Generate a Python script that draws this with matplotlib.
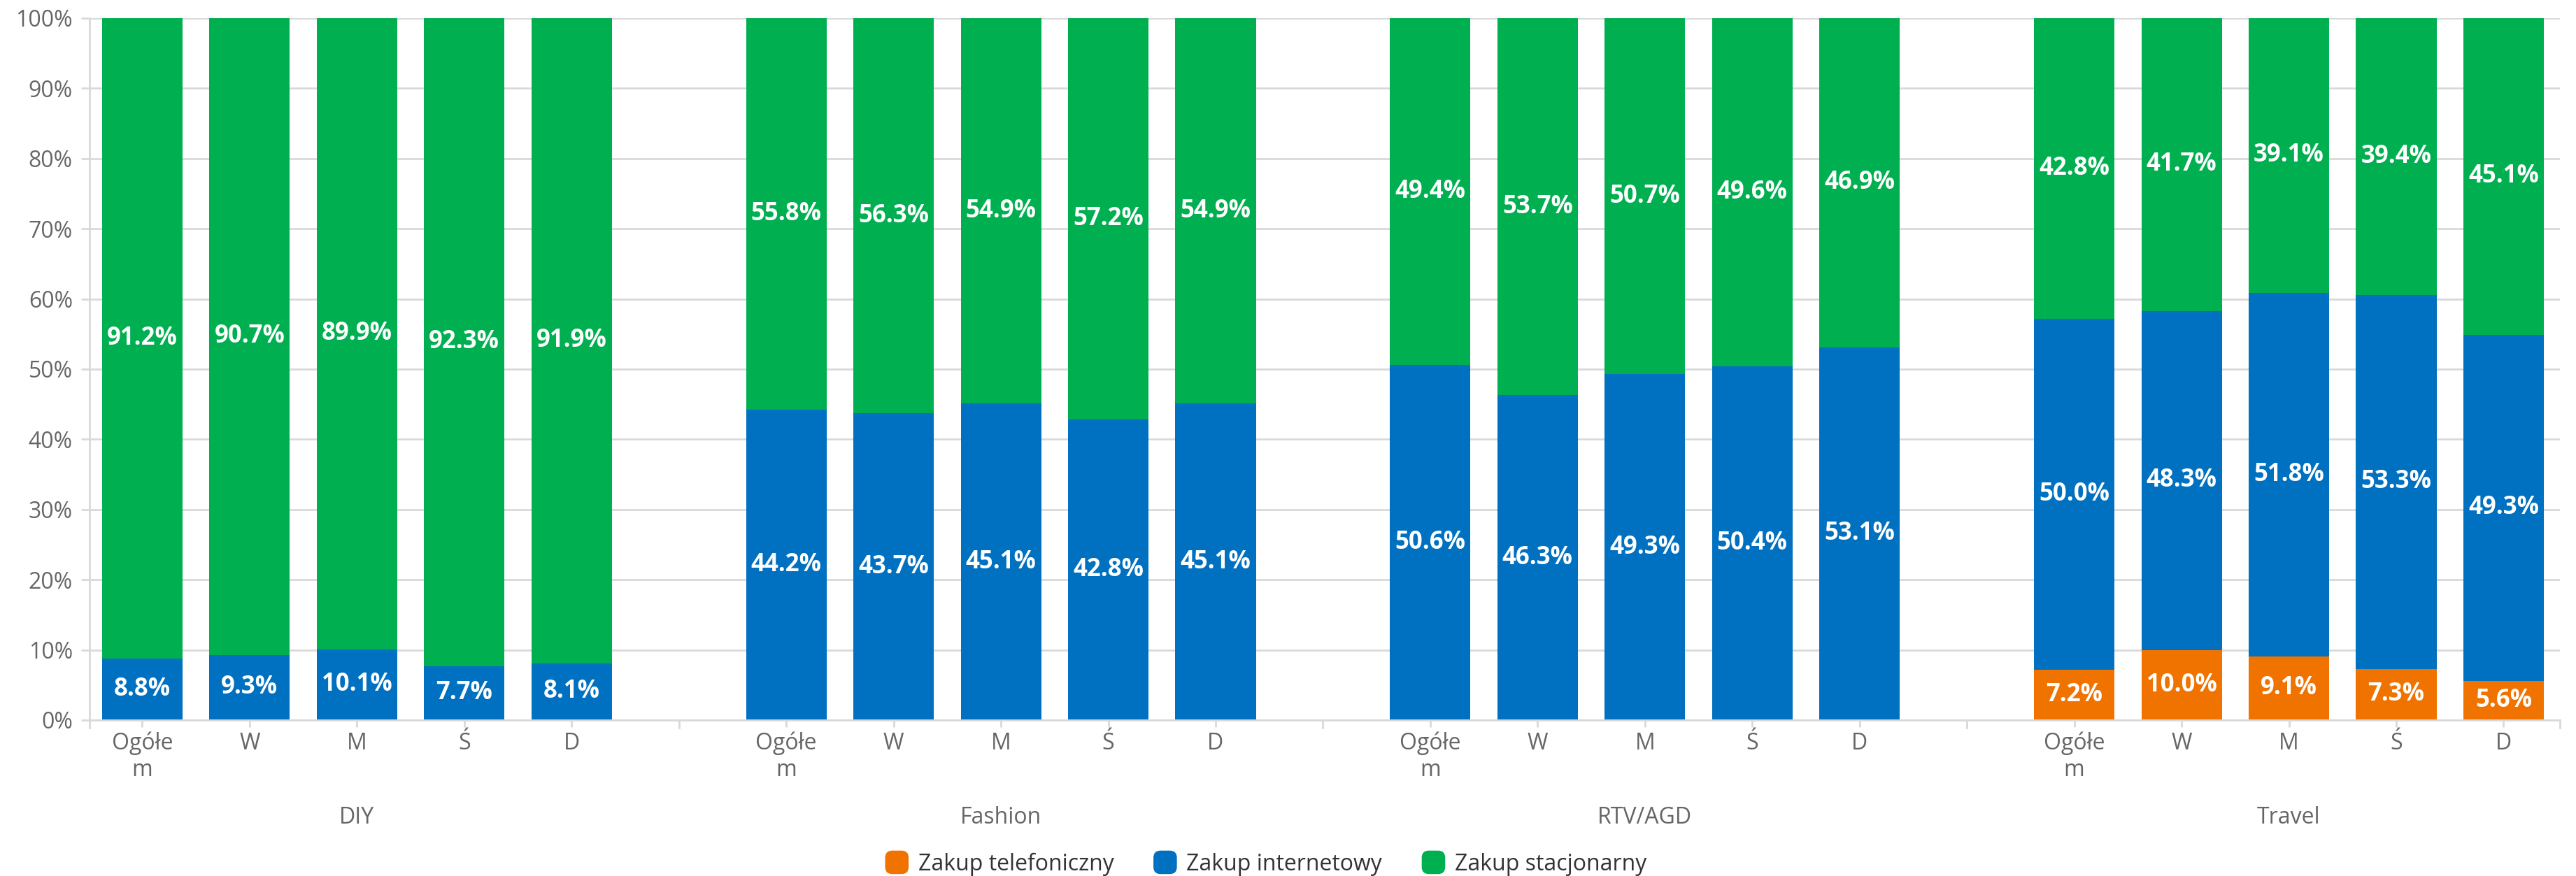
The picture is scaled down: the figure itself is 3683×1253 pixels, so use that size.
import numpy as np
import matplotlib
matplotlib.use("Agg")
import matplotlib.pyplot as plt
from matplotlib.patches import FancyBboxPatch
from matplotlib.legend_handler import HandlerPatch
from matplotlib.patches import Patch
import matplotlib.transforms as mtransforms

plt.rcParams['font.family'] = ['Open Sans', 'DejaVu Sans']

# ---------- data ----------
groups = ['DIY', 'Fashion', 'RTV/AGD', 'Travel']
cats = ['Ogółe\nm', 'W', 'M', 'Ś', 'D']
series_names = ['Zakup telefoniczny', 'Zakup internetowy', 'Zakup stacjonarny']

telefoniczny = [0, 0, 0, 0, 0,
                0, 0, 0, 0, 0,
                0, 0, 0, 0, 0,
                7.2, 10.0, 9.1, 7.3, 5.6]
internetowy = [8.8, 9.3, 10.1, 7.7, 8.1,
               44.2, 43.7, 45.1, 42.8, 45.1,
               50.6, 46.3, 49.3, 50.4, 53.1,
               50.0, 48.3, 51.8, 53.3, 49.3]
stacjonarny = [91.2, 90.7, 89.9, 92.3, 91.9,
               55.8, 56.3, 54.9, 57.2, 54.9,
               49.4, 53.7, 50.7, 49.6, 46.9,
               42.8, 41.7, 39.1, 39.4, 45.1]

colors = ['#F07300', '#0070C0', '#00AF50']
grid_c = '#D9D9D9'
text_c = '#666666'
fs = 23

# ---------- layout ----------
W, H = 3683, 1253
fig = plt.figure(figsize=(W / 100, H / 100), dpi=100)
ax = fig.add_axes([127.5 / W, 1 - 1030 / H, (3660 - 127.5) / W, (1030 - 26) / H])

pos = []
for g in range(len(groups)):
    for c in range(len(cats)):
        pos.append(g * 6 + c)
pos = np.array(pos, dtype=float)

# normalise each bar to 100%
data = np.array([telefoniczny, internetowy, stacjonarny], dtype=float)
tot = data.sum(axis=0)
shares = data / tot * 100

bottom = np.zeros(len(pos))
for i in range(3):
    ax.bar(pos, shares[i], bottom=bottom, width=0.75, color=colors[i], zorder=3)
    for x, b, v, raw in zip(pos, bottom, shares[i], data[i]):
        if raw > 0:
            ax.text(x, b + v / 2, '%.1f%%' % raw, ha='center', va='center',
                    color='white', fontsize=25, fontweight='bold', zorder=4)
    bottom += shares[i]

ax.set_xlim(-0.495, 22.525)
ax.set_ylim(0, 100)

# y axis
ax.set_yticks(np.arange(0, 101, 10))
ax.set_yticklabels(['%d%%' % v for v in range(0, 101, 10)])
ax.yaxis.grid(True, color=grid_c, linewidth=2, zorder=0)
ax.tick_params(axis='y', length=9, width=2, color=grid_c, pad=8,
               labelsize=fs, labelcolor=text_c)

# x axis: category ticks
ax.set_xticks(pos)
ax.set_xticklabels(cats * len(groups), linespacing=1.2)
ax.tick_params(axis='x', length=7, width=2, color=grid_c, pad=5,
               labelsize=fs, labelcolor=text_c)
for lab in ax.get_xticklabels():
    lab.set_verticalalignment('top')

# group separators on x axis
trans = mtransforms.blended_transform_factory(ax.transData, ax.transAxes)
for sx in [-0.495, 5, 11, 17, 22.525]:
    ax.plot([sx, sx], [0, -11 / 1004], color=grid_c, linewidth=2,
            transform=trans, clip_on=False, zorder=5)

# group labels
for g, name in enumerate(groups):
    ax.text(g * 6 + 2, -0.139, name, transform=trans, ha='center', va='center',
            fontsize=fs, color=text_c)

for s in ['top', 'right']:
    ax.spines[s].set_visible(False)
for s in ['left', 'bottom']:
    ax.spines[s].set_color(grid_c)
    ax.spines[s].set_linewidth(2)
    ax.spines[s].set_zorder(5)


# legend with rounded squares
class RoundHandler(HandlerPatch):
    def create_artists(self, legend, orig_handle, xdescent, ydescent,
                       width, height, fontsize, trans):
        s = height * 1.5
        p = FancyBboxPatch((xdescent + (width - s) / 2, ydescent + (height - s) / 2), s, s,
                           boxstyle='round,pad=0,rounding_size=%f' % (s * 0.3),
                           facecolor=orig_handle.get_facecolor(), edgecolor='none',
                           transform=trans)
        return [p]


handles = [Patch(facecolor=c) for c in colors]
fig.legend(handles, series_names, loc='center', bbox_to_anchor=(0.4915, 1 - 1236 / H),
           ncol=3, frameon=False, fontsize=fs, labelcolor='#333333',
           handler_map={Patch: RoundHandler()}, handlelength=1.0,
           handletextpad=0.45, columnspacing=1.8)

fig.savefig('out.png', dpi=100)
